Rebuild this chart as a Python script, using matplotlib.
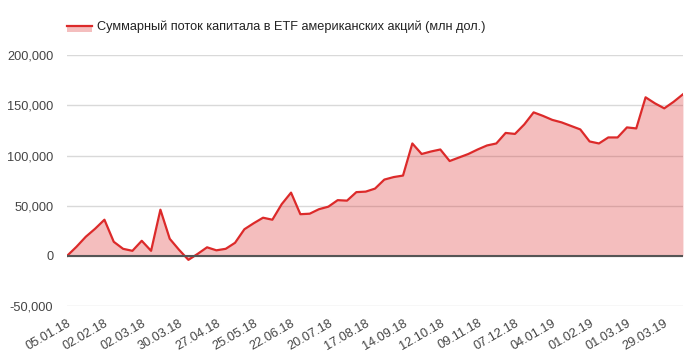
import pandas as pd
import matplotlib
matplotlib.use("Agg")
import matplotlib.pyplot as plt
from matplotlib.patches import Rectangle
from matplotlib.lines import Line2D
from matplotlib.ticker import FuncFormatter

plt.rcParams['font.family'] = ['Liberation Sans', 'DejaVu Sans']

# weekly observations, 05.01.18 .. 12.04.19
dates = pd.date_range("2018-01-05", periods=67, freq="7D")
flow = [
    0, 9000, 19000, 27000, 36000, 14000, 7000, 5000, 15000, 5000,
    46000, 17000, 6000, -4000, 2000, 8500, 5500, 7000, 13000, 26500,
    32500, 38000, 36000, 51500, 63000, 41500, 42000, 46500, 49000, 55500,
    55000, 63500, 64000, 67000, 76000, 78500, 80000, 112000, 101500, 104000,
    106000, 94500, 98000, 101500, 106000, 110000, 112000, 122500, 121500, 131000,
    143000, 139500, 135500, 133000, 129500, 126000, 114000, 112000, 118000, 118000,
    128000, 127000, 158000, 152000, 147000, 153500, 161000,
]
series_label = "Суммарный поток капитала в ETF американских акций (млн дол.)"
y_ticks = [-50000, 0, 50000, 100000, 150000, 200000]

line_color = "#dc2a2a"
W, H = 699, 363

fig = plt.figure(figsize=(W / 100, H / 100), dpi=100)
ax = fig.add_axes([0.096, 0.157, 0.881, 0.691])

x = list(range(len(dates)))
ax.fill_between(x, flow, 0, color=line_color, alpha=0.3, linewidth=0, zorder=2)
ax.plot(x, flow, color=line_color, linewidth=1.6, zorder=3)

ax.set_xlim(0, len(dates) - 1)
ax.set_ylim(-50000, 200000)
ax.set_yticks(y_ticks)
ax.yaxis.set_major_formatter(FuncFormatter(lambda v, p: f"{int(v):,}"))
ax.grid(axis="y", color="#d9d9d9", linewidth=1, zorder=0)
ax.axhline(0, color="#555555", linewidth=1.5, zorder=4)

ticks = x[::4]
ax.set_xticks(ticks)
ax.set_xticklabels([dates[i].strftime("%d.%m.%y") for i in ticks],
                   rotation=30, ha="right", rotation_mode="anchor")

for s in ax.spines.values():
    s.set_visible(False)
ax.tick_params(length=0, labelsize=9.2, colors="#444444")
ax.tick_params(axis="y", pad=10)
ax.tick_params(axis="x", pad=8)

# legend: red line over a pink swatch
fig.add_artist(Rectangle((67 / W, 1 - 32 / H), 25 / W, 6 / H,
                         transform=fig.transFigure, color=line_color, alpha=0.3, lw=0))
fig.add_artist(Line2D([67 / W, 92 / W], [1 - 26 / H, 1 - 26 / H],
                      transform=fig.transFigure, color=line_color, lw=1.6))
fig.text(97 / W, 1 - 27 / H, series_label, fontsize=9.2, color="#222222", va="center")

fig.savefig("out.png", dpi=100)
